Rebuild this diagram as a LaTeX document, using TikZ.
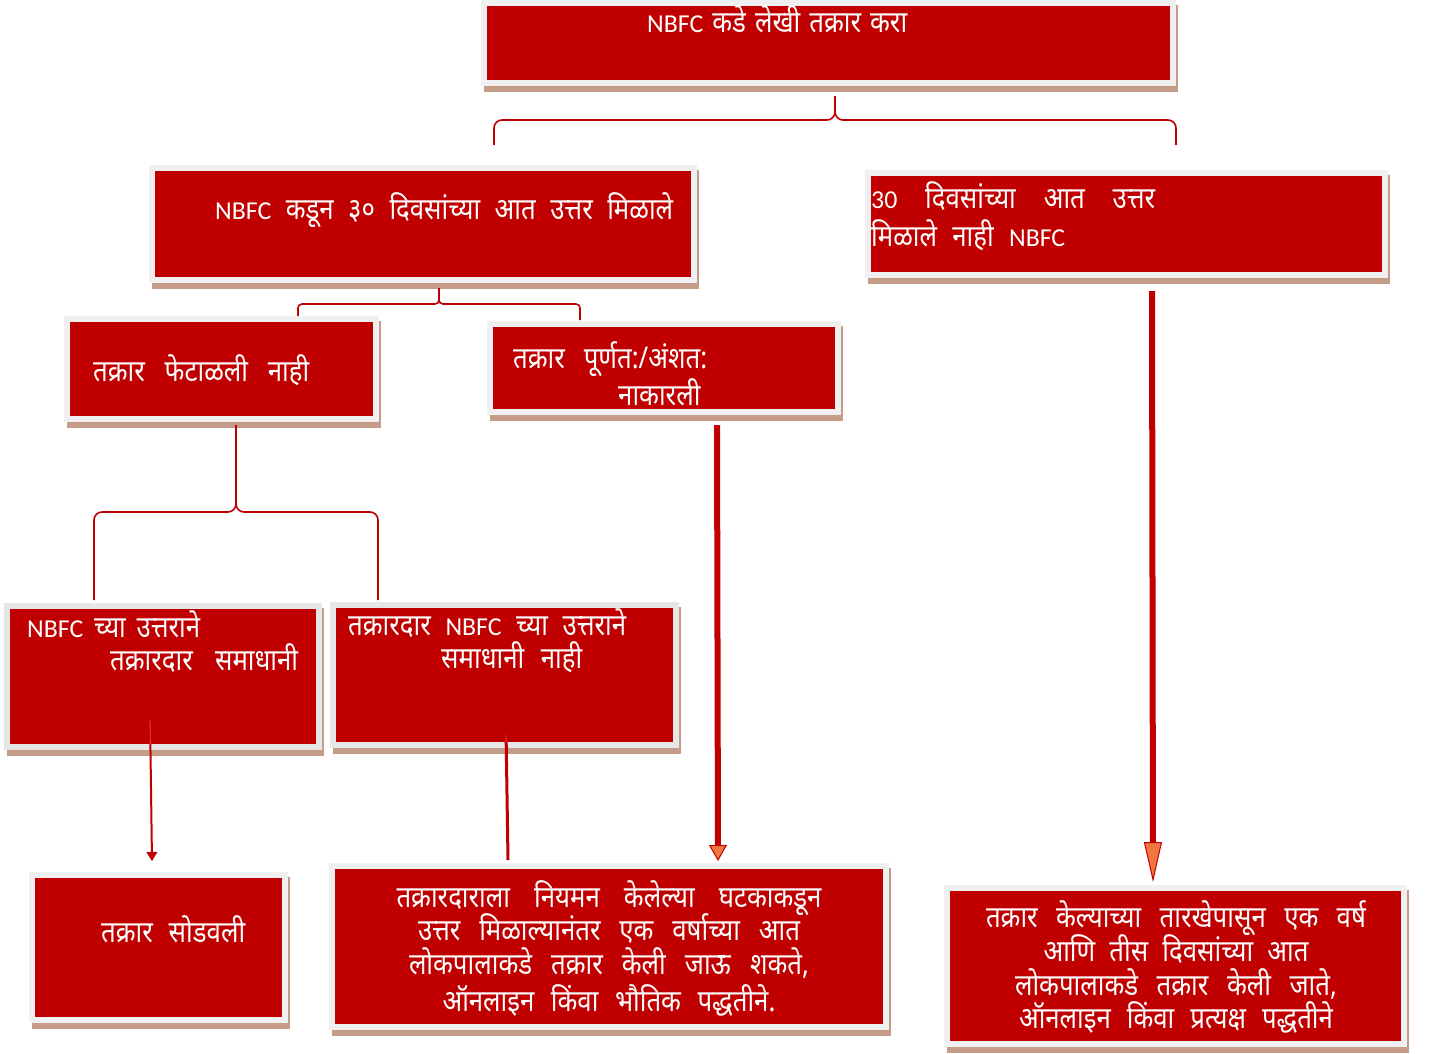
\documentclass[tikz,border=0pt]{standalone}
\usepackage{fontspec}
\setmainfont{Noto Sans}[Script=Devanagari, FakeStretch=0.86]
\newfontfamily\lat{Carlito}[Scale=0.86]
\usetikzlibrary{backgrounds,fit,arrows.meta,calc}
\definecolor{boxred}{HTML}{C00000}
\definecolor{framegray}{HTML}{F0F0F0}
\definecolor{framegraytwo}{HTML}{E6E6E6}
\definecolor{shadowtan}{HTML}{C49C88}
\definecolor{tipor}{HTML}{F07840}
\definecolor{linered}{HTML}{C00000}
\definecolor{inline}{HTML}{E05020}
\tikzset{
  redbox/.style={fill=boxred, inner sep=0pt, draw=none},
  txt/.style={text=white, inner sep=0pt, anchor=base west, font=\fontsize{30}{34}\selectfont},
  ctxt/.style={text=white, inner sep=0pt, anchor=base, font=\fontsize{30}{34}\selectfont},
  brace/.style={draw=linered, line width=1.6pt, rounded corners=8pt},
  thick arrow/.style={draw=linered, line width=6pt, -{Triangle[length=#1, width=18pt, fill=tipor, line width=1pt]}},
  thin arrow/.style={draw=linered, line width=2pt, -{Triangle[length=9pt, width=11pt, line width=0.8pt]}},
  thin line/.style={draw=linered, line width=3pt},
}
\newcommand\wl[2]{\makebox[#1pt][s]{#2}}
\newcommand\boxdeco[3][6]{%
  \begin{scope}[on background layer]
    \fill[shadowtan] ([shift={(-#1+3,#1+6)}]#2.south west) rectangle ([shift={(#1+2,-#1+5)}]#2.north east);
    \fill[#3] ([shift={(-#1,#1)}]#2.south west) rectangle ([shift={(#1,-#1)}]#2.north east);
  \end{scope}}
\newcommand\rbox[6][framegray]{%
  \node[redbox, fit={(#3,#4) (#5,#6)}] (#2) {};
  \boxdeco{#2}{#1}}
\begin{document}
\begin{tikzpicture}[x=1pt,y=-1pt]
\begin{scope}[on background layer]
  \fill[white] (0,0) rectangle (1429,1053);
\end{scope}
\useasboundingbox (0,0) rectangle (1429,1053);
% boxes
\rbox{top}{487}{6}{1170}{80}
\rbox{thirty}{155}{171}{691}{277}
\rbox{noreply}{871}{176}{1382}{272}
\rbox{notrej}{70}{322}{373}{416}
\rbox{partrej}{493}{327}{835}{409}
\rbox[framegraytwo]{sat}{10}{609}{316}{744}
\rbox[framegraytwo]{notsat}{336}{608}{673}{742}
\rbox{resolved}{35}{878}{282}{1017}
\rbox{omb}{335}{869}{883}{1024}
\rbox{ombtwo}{950}{891}{1401}{1041}
% texts
\node[txt] (ttop) at (647,32) {\wl{260}{{\lat NBFC} कडे लेखी तक्रार करा}};
\node[txt] (tthirty) at (215,219) {\wl{458}{{\lat NBFC} कडून ३० दिवसांच्या आत उत्तर मिळाले}};
\node[txt] (tno1) at (871,208) {\wl{284}{{\lat 30} दिवसांच्या आत उत्तर}};
\node[txt] (tno2) at (871,246) {\wl{194}{मिळाले नाही {\lat NBFC}}};
\node[txt] (tnotrej) at (93,381) {\wl{216}{तक्रार फेटाळली नाही}};
\node[txt] (tpart1) at (513,368) {\wl{194}{तक्रार पूर्णत:/अंशत:}};
\node[txt] (tpart2) at (618,405) {\wl{88}{नाकारली}};
\node[txt] (tsat1) at (27,637) {\wl{173}{{\lat NBFC} च्या उत्तराने}};
\node[txt] (tsat2) at (110,670) {\wl{188}{तक्रारदार समाधानी}};
\node[txt] (tns1) at (348,635) {\wl{278}{तक्रारदार {\lat NBFC} च्या उत्तराने}};
\node[txt] (tns2) at (441,668) {\wl{141}{समाधानी नाही}};
\node[txt] (tres) at (101,942) {\wl{144}{तक्रार सोडवली}};
\node[ctxt] (tomb1) at (609,907) {\wl{425}{तक्रारदाराला नियमन केलेल्या घटकाकडून}};
\node[ctxt] (tomb2) at (609,940) {\wl{382}{उत्तर मिळाल्यानंतर एक वर्षाच्या आत}};
\node[ctxt] (tomb3) at (609,974) {\wl{400}{लोकपालाकडे तक्रार केली जाऊ शकते,}};
\node[ctxt] (tomb4) at (609,1011) {\wl{333}{ऑनलाइन किंवा भौतिक पद्धतीने.}};
\node[ctxt] (ttwo1) at (1176,927) {\wl{380}{तक्रार केल्याच्या तारखेपासून एक वर्ष}};
\node[ctxt] (ttwo2) at (1176,961) {\wl{265}{आणि तीस दिवसांच्या आत}};
\node[ctxt] (ttwo3) at (1176,995) {\wl{322}{लोकपालाकडे तक्रार केली जाते,}};
\node[ctxt] (ttwo4) at (1176,1028) {\wl{314}{ऑनलाइन किंवा प्रत्यक्ष पद्धतीने}};
% connector end points
\coordinate (b1t) at (835,96);
\coordinate (b1l) at (494,145);
\coordinate (b1r) at (1176,145);
\coordinate (b2t) at (439,288);
\coordinate (b2l) at (298,316);
\coordinate (b2r) at (580,320);
\coordinate (b3t) at (236,425);
\coordinate (b3l) at (94,600);
\coordinate (b3r) at (378,600);
\coordinate (a1s) at (717,425);
\coordinate (a1e) at (718,861);
\coordinate (a2s) at (1152,291);
\coordinate (a2e) at (1153,882);
\coordinate (a3s) at (150,720);
\coordinate (a3m) at (150.4,744);
\coordinate (a3e) at (152,861);
\coordinate (a4s) at (506,735);
\coordinate (a4m) at (506.2,742);
\coordinate (a4e) at (508,860);
% braces
\draw[brace] (b1t) -- (b1t |- 0,120) -- (b1l |- 0,120) -- (b1l);
\draw[brace] (b1t) -- (b1t |- 0,120) -- (b1r |- 0,120) -- (b1r);
\draw[brace, rounded corners=4pt] (b2t) -- (b2t |- 0,304) -- (b2l |- 0,304) -- (b2l);
\draw[brace, rounded corners=4pt] (b2t) -- (b2t |- 0,304) -- (b2r |- 0,304) -- (b2r);
\draw[brace] (b3t) -- (b3t |- 0,512) -- (b3l |- 0,512) -- (b3l);
\draw[brace] (b3t) -- (b3t |- 0,512) -- (b3r |- 0,512) -- (b3r);
% arrows
\draw[thick arrow=16pt] (a1s) -- (a1e);
\draw[thick arrow=40pt] (a2s) -- (a2e);
\draw[inline, line width=0.8pt] (a3s) -- (a3m);
\draw[thin arrow] (a3m) -- (a3e);
\draw[inline, line width=0.8pt] (a4s) -- (a4m);
\draw[thin line] (a4m) -- (a4e);
\end{tikzpicture}
\end{document}
